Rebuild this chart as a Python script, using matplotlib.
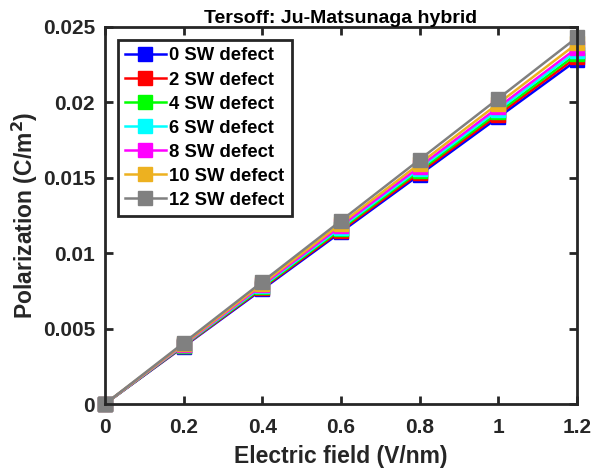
import matplotlib.pyplot as plt

plt.rcParams['font.family'] = ['Liberation Sans', 'DejaVu Sans']
plt.rcParams['font.weight'] = 'bold'

field = [0, 0.2, 0.4, 0.6, 0.8, 1.0, 1.2]
labels = ['0 SW defect', '2 SW defect', '4 SW defect', '6 SW defect',
          '8 SW defect', '10 SW defect', '12 SW defect']
colors = ['#0000ff', '#ff0000', '#00ff00', '#00ffff', '#ff00ff', '#edb120', '#808080']

p0 = [0, 0.0038, 0.0076, 0.0114, 0.0152, 0.0190, 0.0228]
p2 = [0, 0.00383, 0.00767, 0.0115, 0.01533, 0.01917, 0.0230]
p4 = [0, 0.00387, 0.00773, 0.0116, 0.01547, 0.01933, 0.0232]
p6 = [0, 0.0039, 0.0078, 0.0117, 0.0156, 0.0195, 0.0234]
p8 = [0, 0.00393, 0.00787, 0.0118, 0.01573, 0.01967, 0.0236]
p10 = [0, 0.00398, 0.00797, 0.01195, 0.01593, 0.01992, 0.0239]
p12 = [0, 0.00405, 0.0081, 0.01215, 0.0162, 0.02025, 0.0243]
series = [p0, p2, p4, p6, p8, p10, p12]

fig = plt.figure(figsize=(5.96, 4.72), dpi=100)
ax = fig.add_axes([0.176, 0.144, 0.792, 0.799])

for ys, c, lab in zip(series, colors, labels):
    ax.plot(field, ys, '-s', color=c, lw=1.8, ms=10, mfc=c, mec=c, label=lab,
            clip_on=False)

ax.set_xlim(0, 1.2)
ax.set_ylim(0, 0.025)
ax.set_xticks(field)
ax.set_xticklabels(['0', '0.2', '0.4', '0.6', '0.8', '1', '1.2'])
ax.set_yticks([0, 0.005, 0.01, 0.015, 0.02, 0.025])
ax.set_yticklabels(['0', '0.005', '0.01', '0.015', '0.02', '0.025'])
ax.tick_params(direction='in', length=6, width=2, labelsize=15, pad=7,
               top=True, right=True, colors='#262626')
ax.tick_params(axis='x', pad=10)
for sp in ax.spines.values():
    sp.set_linewidth(2)
    sp.set_color('#262626')

ax.set_xlabel('Electric field (V/nm)', fontsize=16.5, fontweight='bold',
              color='#262626', labelpad=6)
ax.set_ylabel('Polarization (C/m$^\\mathbf{2}$)', fontsize=16.5, fontweight='bold',
              color='#262626', labelpad=2)
ax.set_title('Tersoff: Ju-Matsunaga hybrid', fontsize=14, fontweight='bold', pad=3)

leg = ax.legend(loc='upper left', bbox_to_anchor=(0.027, 0.965), fontsize=13.3,
                fancybox=False, framealpha=1, edgecolor='#262626',
                handlelength=2.2, handletextpad=0.2, borderpad=0.4,
                labelspacing=0.38, borderaxespad=0)
leg.get_frame().set_linewidth(2)

fig.savefig('out.png', dpi=100)
